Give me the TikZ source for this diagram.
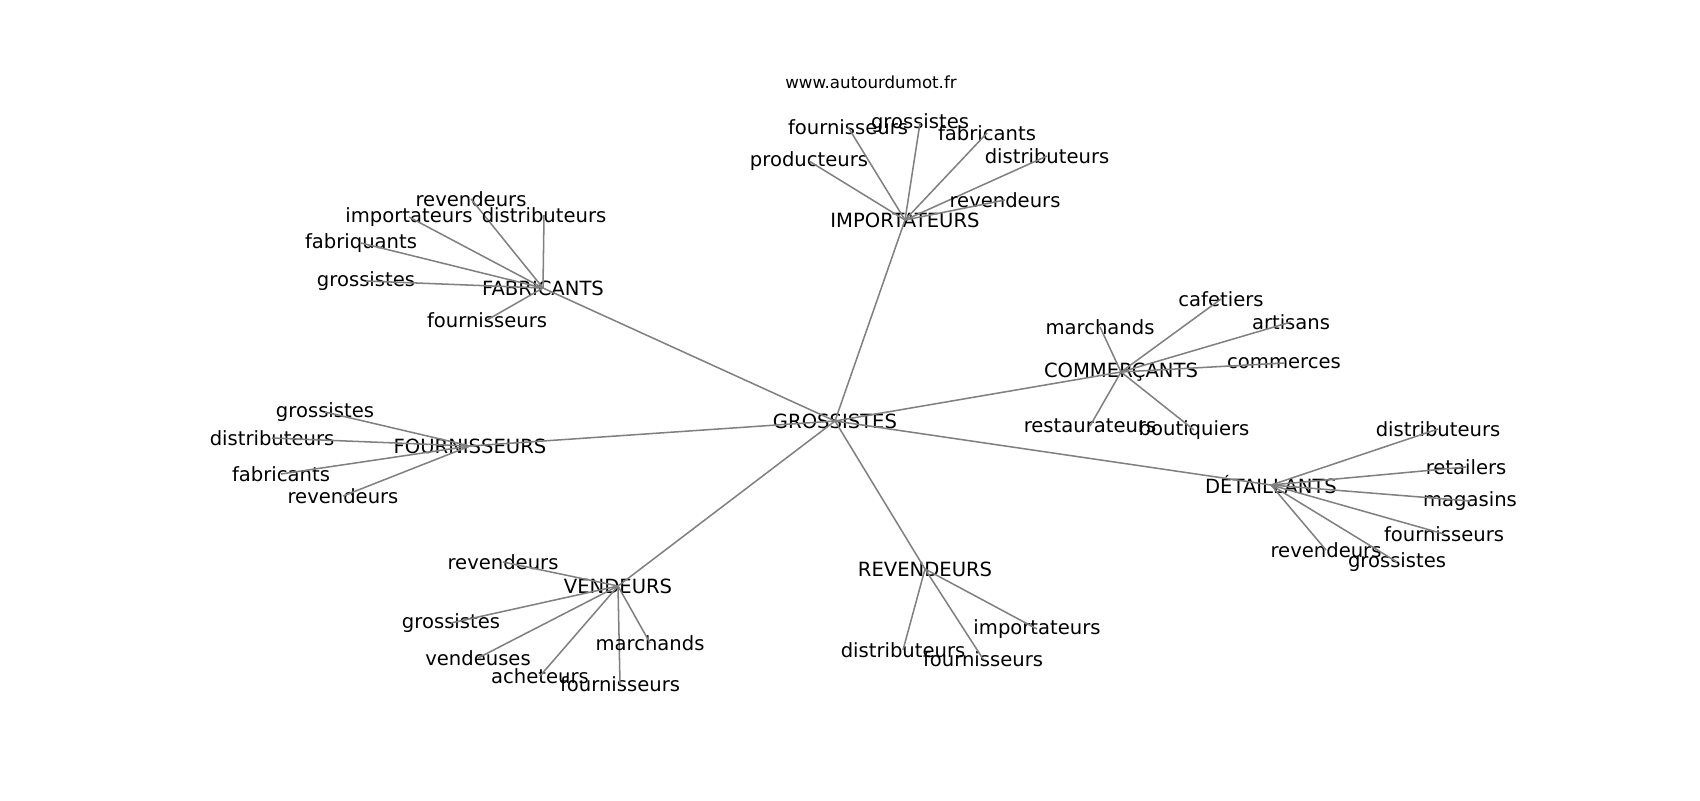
\documentclass[tikz,border=0pt]{standalone}
\usepackage{fontspec}
\setmainfont{DejaVu Sans}
\usepackage{tikz}
\tikzset{
    word/.style={
        inner sep=0pt,
        font=\fontsize{14.1}{16}\selectfont
    },
    edge/.style={
        draw=gray,
        line width=1.1pt
    }
}
\newcommand{\hub}[4] {
	\node[word] (#1) at (#2,#3) {#4};
}
\newcommand{\leaf}[5] {
	\node[word] (#1) at (#2,#3) {#4};
	\draw[edge] (#5.center) -- (#1.center);
}

\begin{document}
\begin{tikzpicture}[x=0.72pt,y=-0.72pt]
		\useasboundingbox (0,0) rectangle (1700,800);

		\node[word,font=\fontsize{12}{14}\selectfont] (site) at (871,82) {www.autourdumot.fr};

		% Centre
		\hub{gro}{835}{421}{GROSSISTES}
		\hub{imp}{905}{220}{IMPORTATEURS}
		\hub{fab}{543}{288}{FABRICANTS}
		\hub{com}{1121}{372}{COMMERÇANTS}
		\hub{det}{1271}{485}{DÉTAILLANTS}
		\hub{fou}{470}{446}{FOURNISSEURS}
		\hub{ven}{618}{586}{VENDEURS}
		\hub{rev}{925}{569}{REVENDEURS}
		\draw[edge] (gro.center) -- (imp.center);
		\draw[edge] (gro.center) -- (fab.center);
		\draw[edge] (gro.center) -- (com.center);
		\draw[edge] (gro.center) -- (det.center);
		\draw[edge] (gro.center) -- (fou.center);
		\draw[edge] (gro.center) -- (ven.center);
		\draw[edge] (gro.center) -- (rev.center);

		% IMPORTATEURS
		\leaf{imp-pro}{809}{161}{producteurs}{imp}
		\leaf{imp-fou}{848}{127}{fournisseurs}{imp}
		\leaf{imp-gro}{920}{123}{grossistes}{imp}
		\leaf{imp-fab}{987}{133}{fabricants}{imp}
		\leaf{imp-dis}{1047}{156}{distributeurs}{imp}
		\leaf{imp-rev}{1005}{200}{revendeurs}{imp}

		% FABRICANTS
		\leaf{fab-rev}{471}{199}{revendeurs}{fab}
		\leaf{fab-imp}{409}{217}{importateurs}{fab}
		\leaf{fab-dis}{544}{215}{distributeurs}{fab}
		\leaf{fab-fab}{361}{243}{fabriquants}{fab}
		\leaf{fab-gro}{366}{281}{grossistes}{fab}
		\leaf{fab-fou}{487}{320}{fournisseurs}{fab}

		% COMMERÇANTS
		\leaf{com-mar}{1100}{327}{marchands}{com}
		\leaf{com-caf}{1221}{299}{cafetiers}{com}
		\leaf{com-art}{1291}{322}{artisans}{com}
		\leaf{com-com}{1284}{363}{commerces}{com}
		\leaf{com-res}{1090}{426}{restaurateurs}{com}
		\leaf{com-bou}{1194}{430}{boutiquiers}{com}

		% DÉTAILLANTS
		\leaf{det-dis}{1438}{429}{distributeurs}{det}
		\leaf{det-ret}{1466}{467}{retailers}{det}
		\leaf{det-mag}{1470}{501}{magasins}{det}
		\leaf{det-fou}{1444}{534}{fournisseurs}{det}
		\leaf{det-rev}{1326}{550}{revendeurs}{det}
		\leaf{det-gro}{1397}{562}{grossistes}{det}

		% FOURNISSEURS
		\leaf{fou-gro}{325}{412}{grossistes}{fou}
		\leaf{fou-dis}{272}{438}{distributeurs}{fou}
		\leaf{fou-fab}{281}{474}{fabricants}{fou}
		\leaf{fou-rev}{343}{496}{revendeurs}{fou}

		% VENDEURS
		\leaf{ven-rev}{503}{562}{revendeurs}{ven}
		\leaf{ven-gro}{451}{623}{grossistes}{ven}
		\leaf{ven-vdu}{478}{658}{vendeuses}{ven}
		\leaf{ven-ach}{540}{676}{acheteurs}{ven}
		\leaf{ven-fou}{620}{684}{fournisseurs}{ven}
		\leaf{ven-mar}{650}{643}{marchands}{ven}

		% REVENDEURS
		\leaf{rev-dis}{903}{650}{distributeurs}{rev}
		\leaf{rev-fou}{983}{659}{fournisseurs}{rev}
		\leaf{rev-imp}{1037}{629}{importateurs}{rev}
\end{tikzpicture}
\end{document}
